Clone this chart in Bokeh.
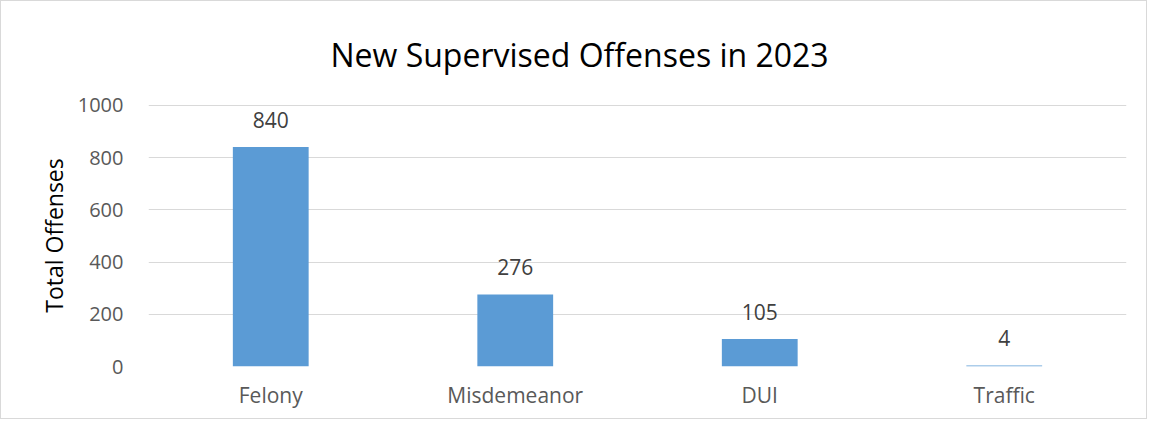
from bokeh.plotting import figure
from bokeh.models import Range1d, FactorRange, ColumnDataSource
from bokeh.core.properties import value
from bokeh.embed import file_html
from bokeh.resources import INLINE

categories = ["Felony", "Misdemeanor", "DUI", "Traffic"]
offenses = [840, 276, 105, 4]
y_ticks = [0, 200, 400, 600, 800, 1000]

FONT = "Open Sans"
src = ColumnDataSource(dict(cat=categories, val=offenses, lab=[str(v) for v in offenses]))

p = figure(width=1147, height=419, x_range=FactorRange(*categories, range_padding=0),
           y_range=Range1d(0, 1003), output_backend="svg", toolbar_location=None,
           min_border_left=147, min_border_right=22, min_border_top=102, min_border_bottom=54,
           title="New Supervised Offenses in 2023")
p.styles = {"border": "1px solid #d9d9d9"}

p.title.align = "left"
p.title.text_font = FONT
p.title.text_font_size = "32px"
p.title.text_font_style = "normal"
p.title.text_color = "#000000"
p.title.offset = 182
p.title.standoff = 58

p.vbar(x="cat", top="val", width=0.31, source=src, fill_color="#5b9bd5", line_color=None)
p.text(x="cat", y="val", text="lab", source=src, text_align="center", text_baseline="bottom",
       y_offset=-19, text_font=value(FONT), text_font_size="21px", text_color="#404040")

p.outline_line_color = None
p.xgrid.grid_line_color = None
p.ygrid.grid_line_color = "#d9d9d9"
p.ygrid.grid_line_width = 1

p.yaxis.ticker = y_ticks
p.yaxis.axis_line_color = None
p.yaxis.major_tick_line_color = None
p.yaxis.minor_tick_line_color = None
p.yaxis.major_label_text_font = FONT
p.yaxis.major_label_text_font_size = "20px"
p.yaxis.major_label_text_color = "#595959"
p.yaxis.major_label_standoff = 19
p.yaxis.axis_label = "Total Offenses"
p.yaxis.axis_label_text_font = FONT
p.yaxis.axis_label_text_font_size = "23px"
p.yaxis.axis_label_text_font_style = "normal"
p.yaxis.axis_label_text_color = "#000000"
p.yaxis.axis_label_standoff = 5

p.xaxis.axis_line_color = None
p.xaxis.major_tick_line_color = None
p.xaxis.major_label_text_font = FONT
p.xaxis.major_label_text_font_size = "21px"
p.xaxis.major_label_text_color = "#595959"
p.xaxis.major_label_standoff = 8

open("out.html", "w").write(file_html(p, INLINE))
